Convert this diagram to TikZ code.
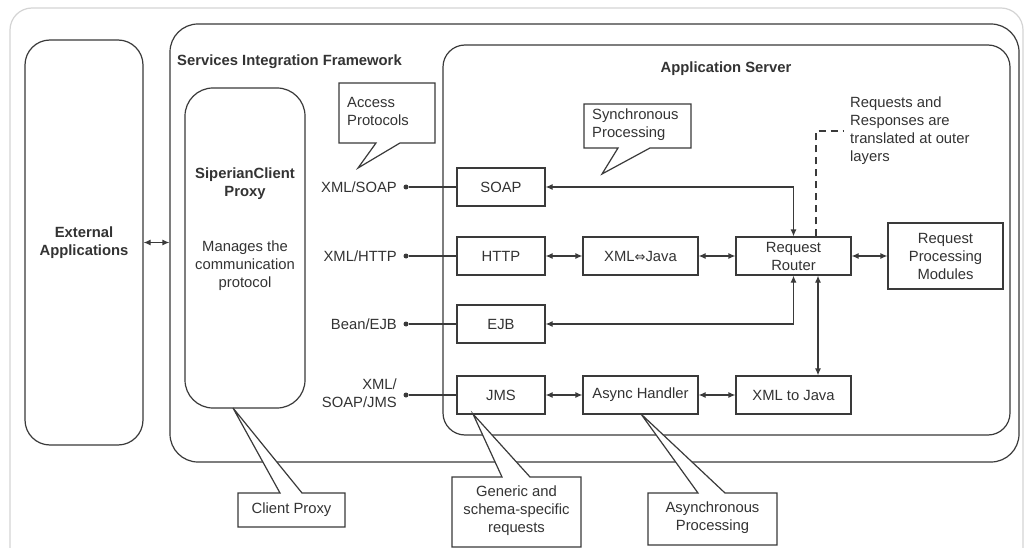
\documentclass[tikz,border=0pt]{standalone}
\usepackage{fontspec}
\setmainfont{Liberation Sans}
\newfontfamily\djv{DejaVu Sans}
\usetikzlibrary{arrows.meta,calc}
\definecolor{ln}{HTML}{3A3A3A}
\definecolor{tx}{HTML}{333333}
\definecolor{fr}{HTML}{D4D4D4}
\newcommand\dfs{\fontsize{14.8}{18}\selectfont}
\begin{document}
\begin{tikzpicture}[x=1pt,y=-1pt,
  every node/.style={font=\dfs, text=tx},
  box/.style={draw=ln, line width=1.2pt, fill=white, minimum width=88pt, minimum height=38pt, inner sep=0pt, align=center},
  wbox/.style={box, minimum width=115pt},
  cont/.style={draw=ln, line width=1.2pt, rounded corners=#1, inner sep=0pt},
  conn/.style={draw=ln, line width=1.2pt},
  arr/.style={conn, {Latex[length=7pt,width=6pt]}-{Latex[length=7pt,width=6pt]}},
  dot/.style={circle, fill=ln, inner sep=0pt, minimum size=5pt},
  lbl/.style={anchor=east, align=right, inner sep=0pt},
  txt/.style={inner sep=0pt, align=center},
  ltxt/.style={inner sep=0pt, align=left, anchor=west},
  callout/.style={draw=ln, line width=1.2pt, fill=white, line join=miter},
]
\useasboundingbox (0,0) rectangle (1025,548);
\clip (0,0) rectangle (1025,548);
\fill[white] (0,0) rectangle (1025,548);
% outer light frame
\draw[fr, line width=1.2pt, rounded corners=22] (10,8) rectangle (1023,640);

% containers
\node[cont=25, minimum width=118pt, minimum height=405pt, align=center] (ext) at (84,242.5)
  {\bfseries External\\\bfseries Applications};
\node[cont=28, minimum width=849pt, minimum height=438pt] (sif) at (594.5,243) {};
\node[cont=22, minimum width=567pt, minimum height=390pt] (app) at (726.5,240) {};
\node[cont=28, minimum width=120pt, minimum height=320pt] (proxy) at (245,248) {};

\node[ltxt, font=\dfs\bfseries] (sift) at (177,62) {Services Integration Framework};
\node[txt, font=\dfs\bfseries] (appt) at (726,69) {Application Server};
\node[txt, font=\dfs\bfseries] (proxyt) at (245,184) {SiperianClient\\Proxy};
\node[txt] (proxyd) at (245,266) {Manages the\\communication\\protocol};

\draw[arr] (ext.east) -- (ext.east -| sif.west);

% protocol labels and dots
\node[lbl] (l1) at (397,187) {XML/SOAP};
\node[lbl] (l2) at (397,256) {XML/HTTP};
\node[lbl] (l3) at (397,324) {Bean/EJB};
\node[lbl] (l4) at (397,393) {XML/\\SOAP/JMS};
\node[dot] (d1) at (406,187) {};
\node[dot] (d2) at (406,256) {};
\node[dot] (d3) at (406,324) {};
\node[dot] (d4) at (406,395) {};

% boxes
\node[box] (soap) at (501,187) {SOAP};
\node[box] (http) at (501,256) {HTTP};
\node[box] (ejb) at (501,324) {EJB};
\node[box] (jms) at (501,395) {JMS};
\node[wbox] (xj) at (640.5,256) {XML{\djv\fontsize{13}{13}\selectfont ⇔}Java};
\node[wbox] (router) at (793.5,256) {Request\\Router};
\node[wbox, minimum height=66pt] (rpm) at (945.5,256) {Request\\Processing\\Modules};
\node[wbox] (async) at (640.5,395) {Async Handler};
\node[wbox] (xtj) at (793.5,395) {XML to Java};

% connectors
\draw[conn] (d1) -- (soap);
\draw[conn] (d2) -- (http);
\draw[conn] (d3) -- (ejb);
\draw[conn] (d4) -- (jms);
\draw[arr] (http) -- (xj);
\draw[arr] (xj) -- (router);
\draw[arr] (router) -- (rpm);
\draw[arr] (jms) -- (async);
\draw[arr] (async) -- (xtj);
\draw[arr] (soap.east) -| (router.north);
\draw[arr] (ejb.east) -| (router.south);
\draw[arr] ([xshift=24.5pt]router.south) -- ([xshift=24.5pt]xtj.north);

% note with dashed leader
\node[ltxt] (rr) at (850,131) {Requests and\\Responses are\\translated at outer\\layers};
\draw[conn, dash pattern=on 7pt off 5pt] ([xshift=22.5pt]router.north) |- ([xshift=-7pt]rr.west);

% callouts
\draw[callout] (339,83) -- (435,83) -- (435,143) -- (400,143) -- (358,168) -- (376,143) -- (339,143) -- cycle;
\node[ltxt] (acc) at (347,111) {Access\\Protocols};

\draw[callout] (584,104) -- (691,104) -- (691,148) -- (650,148) -- (602,174) -- (618,148) -- (584,148) -- cycle;
\node[ltxt] (syn) at (592,125) {Synchronous\\Processing};

\draw[callout] (238,493) -- (280,493) -- (233,408) -- (302,493) -- (345,493) -- (345,527) -- (238,527) -- cycle;
\node[txt] (cpx) at (291.5,510) {Client Proxy};

\draw[callout] (452,477) -- (502,477) -- (473,414) -- (530,477) -- (581,477) -- (581,547) -- (452,547) -- cycle;
\node[txt] (gen) at (516.5,511) {Generic and\\schema-specific\\requests};

\draw[callout] (648,493) -- (698,493) -- (641,414) -- (725,493) -- (777,493) -- (777,545) -- (648,545) -- cycle;
\node[txt] (asp) at (712.5,518) {Asynchronous\\Processing};
\end{tikzpicture}
\end{document}
